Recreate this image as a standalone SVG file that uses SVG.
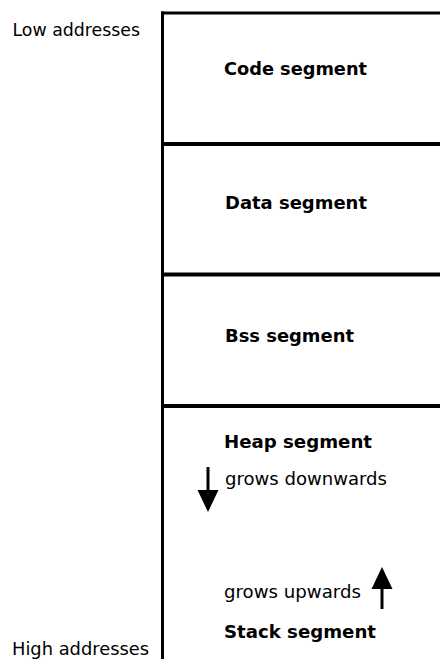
<svg xmlns="http://www.w3.org/2000/svg" width="440" height="659" viewBox="0 0 440 659">
<style>
.lbl{font-family:"DejaVu Sans","Verdana",sans-serif;font-size:18px;fill:#000}
.b{font-weight:bold}
.wall{stroke:#000;fill:none}
.arr{stroke:#000;stroke-width:3;fill:none}
</style>
<defs>
<marker id="head" markerUnits="userSpaceOnUse" markerWidth="22" markerHeight="22" viewBox="0 0 22 21" refX="10" refY="10.5" orient="auto">
<path d="M0,0 L22,10.5 L0,21 Z" fill="#000"/>
</marker>
</defs>
<rect width="440" height="659" fill="#fff"/>
<g id="labels">
<text class="lbl" x="12.5" y="35.5" textLength="127.5" lengthAdjust="spacingAndGlyphs">Low addresses</text>
<text class="lbl" x="12" y="655" textLength="137" lengthAdjust="spacingAndGlyphs">High addresses</text>
</g>
<g id="frame">
<line class="wall" x1="162.5" y1="11.5" x2="162.5" y2="659" stroke-width="3"/>
<line class="wall" x1="161" y1="13" x2="440" y2="13" stroke-width="3"/>
</g>
<g id="code">
<line class="wall" x1="161" y1="144" x2="440" y2="144" stroke-width="4"/>
<text class="lbl b" x="224" y="75" textLength="143" lengthAdjust="spacingAndGlyphs">Code segment</text>
</g>
<g id="data">
<line class="wall" x1="161" y1="274.5" x2="440" y2="274.5" stroke-width="4"/>
<text class="lbl b" x="225" y="208.5" textLength="142" lengthAdjust="spacingAndGlyphs">Data segment</text>
</g>
<g id="bss">
<line class="wall" x1="161" y1="406" x2="440" y2="406" stroke-width="4"/>
<text class="lbl b" x="225" y="342" textLength="129" lengthAdjust="spacingAndGlyphs">Bss segment</text>
</g>
<g id="heap">
<text class="lbl b" x="224" y="447.7" textLength="148" lengthAdjust="spacingAndGlyphs">Heap segment</text>
<text class="lbl" x="225" y="485" textLength="162" lengthAdjust="spacingAndGlyphs">grows downwards</text>
</g>
<g id="stack">
<text class="lbl" x="224" y="598" textLength="137" lengthAdjust="spacingAndGlyphs">grows upwards</text>
<text class="lbl b" x="224" y="638" textLength="152" lengthAdjust="spacingAndGlyphs">Stack segment</text>
</g>
<g id="connectors">
<line class="arr" x1="208" y1="467" x2="208" y2="500" marker-end="url(#head)"/>
<line class="arr" x1="382" y1="609" x2="382" y2="579" marker-end="url(#head)"/>
</g>
</svg>
